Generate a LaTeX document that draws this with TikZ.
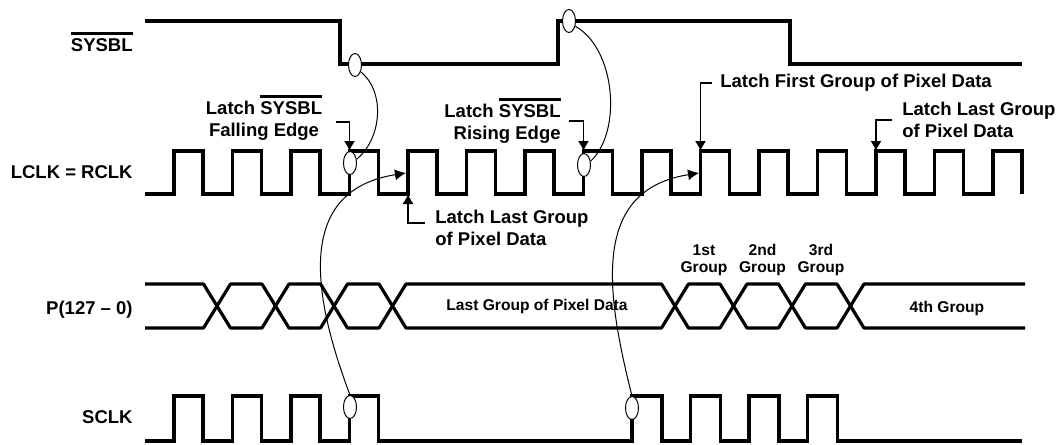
\documentclass[tikz,border=0pt]{standalone}
\usepackage{fontspec}
\setmainfont{Liberation Sans}
\usetikzlibrary{shapes.geometric,arrows.meta}
\newcommand{\negsig}[1]{\leavevmode\vbox{\hrule height 1.3pt\kern 2pt\hbox{#1}}}

\begin{document}
\begin{tikzpicture}[x=0.5pt,y=-0.5pt,
  sig/.style={line width=1.6pt,line join=miter},
  bus/.style={line width=1.6pt,line join=round},
  link/.style={line width=0.5pt},
  callout/.style={line width=0.6pt,-{Latex[length=5pt,width=5.5pt]}},
  ring/.style={ellipse,draw,line width=0.5pt,fill=white,minimum width=6.5pt,minimum height=11.5pt,inner sep=0pt},
  signame/.style={font=\bfseries\fontsize{9.25}{11}\selectfont,anchor=base east,inner sep=0pt},
  note/.style={font=\bfseries\fontsize{9.25}{11}\selectfont,inner sep=0pt},
  grp/.style={font=\bfseries\fontsize{7.8}{8.3}\selectfont,inner sep=0pt,align=center}]
\useasboundingbox (0,0) rectangle (1057,445);

\node[signame] (nSys) at (133,51.6) {\negsig{SYSBL}};
\node[signame] (nClk) at (133,178.6) {LCLK = RCLK};
\node[signame] (nBus) at (133,314) {P(127\;--\;0)};
\node[signame] (nSclk) at (133,423.6) {SCLK};

\draw[sig] (145,21) -- (340,21) -- (340,64) -- (558,64) -- (558,21) -- (790,21) -- (790,64) -- (1022,64);
\draw[sig] (145,194) \foreach \k in {0,...,14} { -- ({174+58.5*\k},194) -- ({174+58.5*\k},151) -- ({203+58.5*\k},151) -- ({203+58.5*\k},194) };
\draw[sig] (145,441) \foreach \k in {0,...,3} { -- ({174+58.5*\k},441) -- ({174+58.5*\k},396) -- ({203+58.5*\k},396) -- ({203+58.5*\k},441) }
  \foreach \k in {0,...,3} { -- ({632+58.5*\k},441) -- ({632+58.5*\k},396) -- ({662+58.5*\k},396) -- ({662+58.5*\k},441) } -- (1022,441);

\draw[bus] (145,284) -- (203.5,284) -- (217,306) -- (203.5,328) -- (145,328);
\foreach \a/\b in {217/275.5,275.5/334,334/392.5,392.5/675,675/733.5,733.5/792,792/850.5}
  \draw[bus] (\a,306) -- ({\a+13.5},284) -- ({\b-13.5},284) -- (\b,306) -- ({\b-13.5},328) -- ({\a+13.5},328) -- cycle;
\draw[bus] (1025,284) -- (864,284) -- (850.5,306) -- (864,328) -- (1025,328);

\node[grp] (gLast) at (537,306) {Last Group of Pixel Data};
\node[grp] (g1) at (704,260) {1st\\Group};
\node[grp] (g2) at (762.5,260) {2nd\\Group};
\node[grp] (g3) at (821,260) {3rd\\Group};
\node[grp] (g4) at (947,308) {4th Group};

\node[ring] (eSysF) at (355,65) {};
\node[ring] (eSysR) at (569,21) {};
\node[ring] (eClkF) at (350,163) {};
\node[ring] (eClkR) at (584,165) {};
\node[ring] (eSclkA) at (350,407) {};
\node[ring] (eSclkB) at (632,408) {};

\coordinate (tFall) at (349.5,151);
\coordinate (tRise) at (583.5,151);
\coordinate (tFirst) at (700.5,151);
\coordinate (tLast) at (876,151);
\coordinate (tLastLo) at (408,194);
\coordinate (tSclkA) at (406,173);
\coordinate (tSclkB) at (699,173);

\node[note,align=center] (nFall) at (264,118) {Latch \negsig{SYSBL}\\Falling Edge};
\node[note,align=right,anchor=east] (nRise) at (561,121) {Latch \negsig{SYSBL}\\Rising Edge};
\node[note,anchor=west] (nFirst) at (720,83) {Latch First Group of Pixel Data};
\node[note,align=left,anchor=west] (nLast) at (902,120) {Latch Last Group\\of Pixel Data};
\node[note,align=left,anchor=west] (nLastLo) at (435,228) {Latch Last Group\\of Pixel Data};

\draw[callout] ([xshift=7pt,yshift=-2pt]nFall.east) -| (tFall);
\draw[callout] ([xshift=4pt]nRise.east) -| (tRise);
\draw[callout] ([xshift=-4pt]nFirst.west) -| (tFirst);
\draw[callout] ([xshift=-5pt]nLast.west) -| (tLast);
\draw[callout] ([xshift=-5pt,yshift=2.5pt]nLastLo.west) -| (tLastLo);

\draw[link] (eSysF.-50) .. controls +(25,20) and +(25,-20) .. (eClkF.30);
\draw[link] (eSysR.-40) .. controls +(40,22) and +(32,-30) .. (eClkR.30);
\draw[link,-{Latex[length=5.5pt,width=5.5pt]}] (eSclkA.north) .. controls +(-40,-106) and +(-108,17) .. (tSclkA);
\draw[link,-{Latex[length=5.5pt,width=5.5pt]}] (eSclkB.north) .. controls +(-27,-107) and +(-107,17) .. (tSclkB);
\end{tikzpicture}
\end{document}
